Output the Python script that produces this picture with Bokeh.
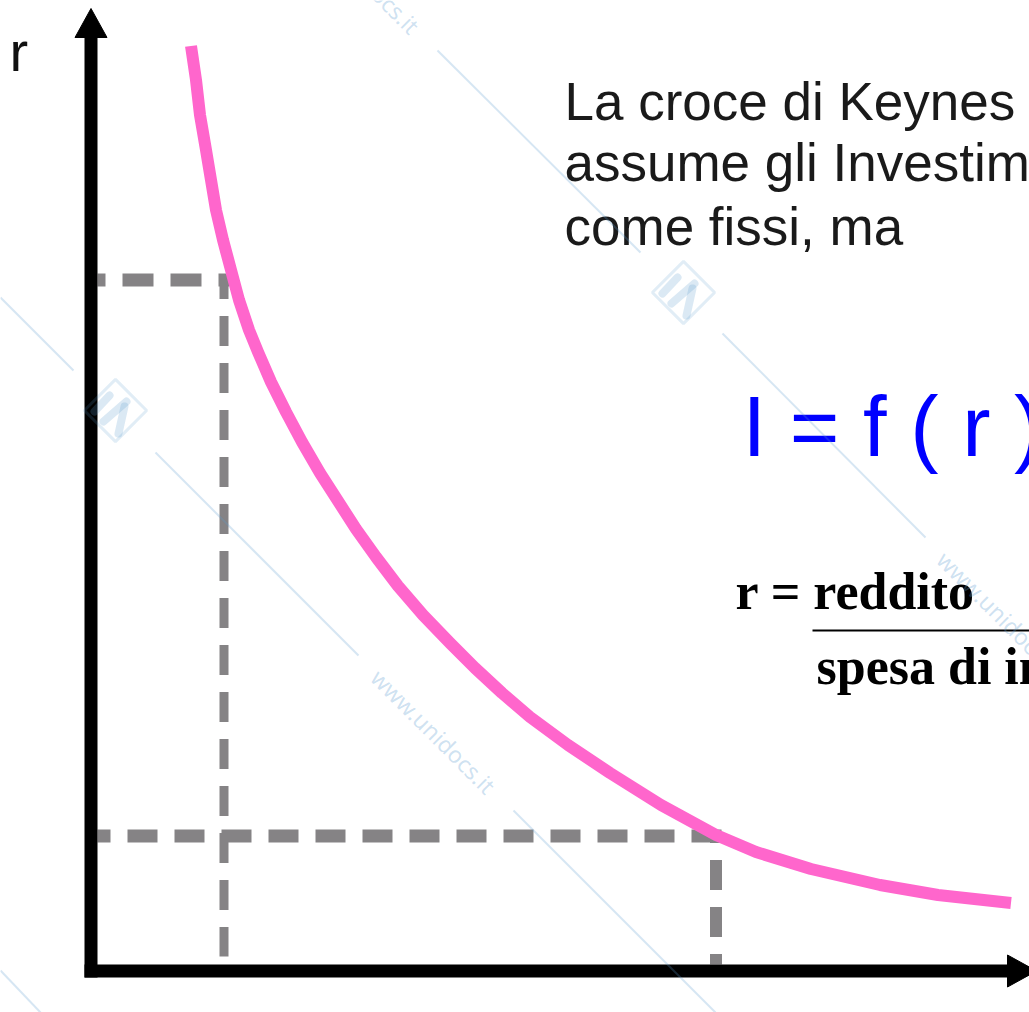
from math import pi

from bokeh.core.properties import value
from bokeh.embed import file_html
from bokeh.models import Range1d
from bokeh.plotting import figure
from bokeh.resources import INLINE

# Investment demand curve I = f(r): investment (x) against interest rate r (y)
investimento = [1.00, 1.05, 1.09, 1.15, 1.20, 1.25, 1.32, 1.40, 1.48, 1.58, 1.67,
                1.80, 1.95, 2.11, 2.29, 2.47, 2.65, 2.85, 3.07, 3.32, 3.59, 3.84,
                4.11, 4.39, 4.77, 5.19, 5.70, 6.25, 6.65, 7.20, 7.89, 8.47, 9.20]
tasso_r = [9.25, 8.91, 8.56, 8.21, 7.91, 7.61, 7.31, 7.01, 6.71, 6.41, 6.19,
           5.89, 5.59, 5.29, 4.98, 4.70, 4.42, 4.14, 3.85, 3.56, 3.28, 3.03,
           2.78, 2.54, 2.26, 1.98, 1.66, 1.36, 1.19, 1.02, 0.86, 0.76, 0.68]

# two reference points (high rate / low investment, low rate / high investment)
livelli_r = [6.91, 1.35]
livelli_i = [1.33, 6.25]

titolo = ["La croce di Keynes", "assume gli Investimenti", "come fissi, ma"]
formula = "I = f ( r )"
numeratore = "r = reddito"
denominatore = "spesa di investimento"

PINK = "#ff66cc"
DASH = "#858385"

p = figure(width=1029, height=1012,
           x_range=Range1d(-0.905, 9.385), y_range=Range1d(-0.415, 9.705),
           output_backend="svg", toolbar_location=None, tools="",
           min_border=0, x_axis_location=None, y_axis_location=None)
p.xgrid.visible = False
p.ygrid.visible = False
p.outline_line_color = None
p.background_fill_color = "white"
p.border_fill_color = "white"

# dashed guides from the axes to the curve
axis_gap = 0.065
p.line([axis_gap, livelli_i[0] + 0.05], [livelli_r[0]] * 2, line_color=DASH, line_width=13,
       line_dash="31 17", line_dash_offset=23)
p.line([livelli_i[0]] * 2, [livelli_r[0], 0.145], line_color=DASH, line_width=9,
       line_dash="30 17", line_dash_offset=11)
p.line([axis_gap, livelli_i[1] + 0.06], [livelli_r[1]] * 2, line_color=DASH, line_width=13,
       line_dash="30 17", line_dash_offset=17)
p.line([livelli_i[1]] * 2, [livelli_r[1], axis_gap], line_color=DASH, line_width=12,
       line_dash="30 17", line_dash_offset=23)

# the investment curve
p.line(investimento, tasso_r, line_color=PINK, line_width=12, line_join="round")

# axes with arrow heads
y_top, x_right = 9.335, 9.165
head_half, head_len = 0.16, 0.29
p.segment(x0=[0, -axis_gap], y0=[-axis_gap, 0], x1=[0, x_right], y1=[y_top, 0],
          line_color="black", line_width=13)
p.patches(xs=[[-head_half, head_half, 0], [x_right, x_right, x_right + head_len]],
          ys=[[y_top, y_top, y_top + head_len], [head_half, -head_half, 0]],
          fill_color="black", line_color="black", line_width=1)

# axis label
p.text(x=[-0.815], y=[9.20], text=["r"], text_font=value("Liberation Sans"),
       text_font_size="56px", text_color="#111111", text_baseline="alphabetic")

# explanatory text
p.text(x=[4.735] * 3, y=[8.70, 8.09, 7.45], text=titolo,
       text_font=value("Liberation Sans"), text_font_size="53px",
       text_color="#1a1a1a", text_baseline="alphabetic")

p.text(x=[6.515], y=[5.45], text=[formula], text_font=value("Liberation Sans"),
       text_font_size="85px", text_color="#0000ff", text_baseline="alphabetic")

p.text(x=[6.445, 7.255], y=[3.80, 3.05], text=[numeratore, denominatore],
       text_font=value("Liberation Serif"), text_font_style="bold",
       text_font_size="52px", text_color="black", text_baseline="alphabetic")
p.segment(x0=[7.215], y0=[3.405], x1=[9.5], y1=[3.405], line_color="black", line_width=2)

# faint site watermark drawn over everything
WM = "#5b9bcf"
wm_x0 = [3.465, -0.905, 0.645, 6.315, 4.225, -0.905]
wm_y0 = [9.205, 6.735, 5.185, 6.375, 1.605, 0.005]
wm_x1 = [5.495, -0.175, 2.675, 8.345, 6.245, -0.505]
wm_y1 = [7.185, 6.005, 3.155, 4.335, -0.415, -0.415]
p.segment(x0=wm_x0, y0=wm_y0, x1=wm_x1, y1=wm_y1, line_color=WM, line_alpha=0.25, line_width=2)

logo_x = [5.925, 0.245]
logo_y = [6.785, 5.605]
p.scatter(logo_x, logo_y, marker="square", size=44, angle=pi / 4, fill_alpha=0,
          line_color=WM, line_alpha=0.18, line_width=3)
strokes = [((-0.21, -0.01), (-0.06, 0.15)), ((-0.12, -0.11), (0.11, 0.09)), ((0.09, 0.04), (0.03, -0.23))]
sx, sy = [], []
for cx, cy in zip(logo_x, logo_y):
    for (ax, ay), (bx, by) in strokes:
        sx.append([cx + ax, cx + bx])
        sy.append([cy + ay, cy + by])
p.multi_line(sx, sy, line_color=WM, line_alpha=0.22, line_width=8, line_cap="round")

p.text(x=[3.425, 9.085, 2.665], y=[2.395, 3.575, 9.995], text=["www.unidocs.it"] * 3,
       angle=-pi / 4, text_font=value("Noto Sans"), text_font_size="23px",
       text_color=WM, text_alpha=0.3, text_align="center", text_baseline="middle")

open("out.html", "w").write(file_html(p, INLINE))
